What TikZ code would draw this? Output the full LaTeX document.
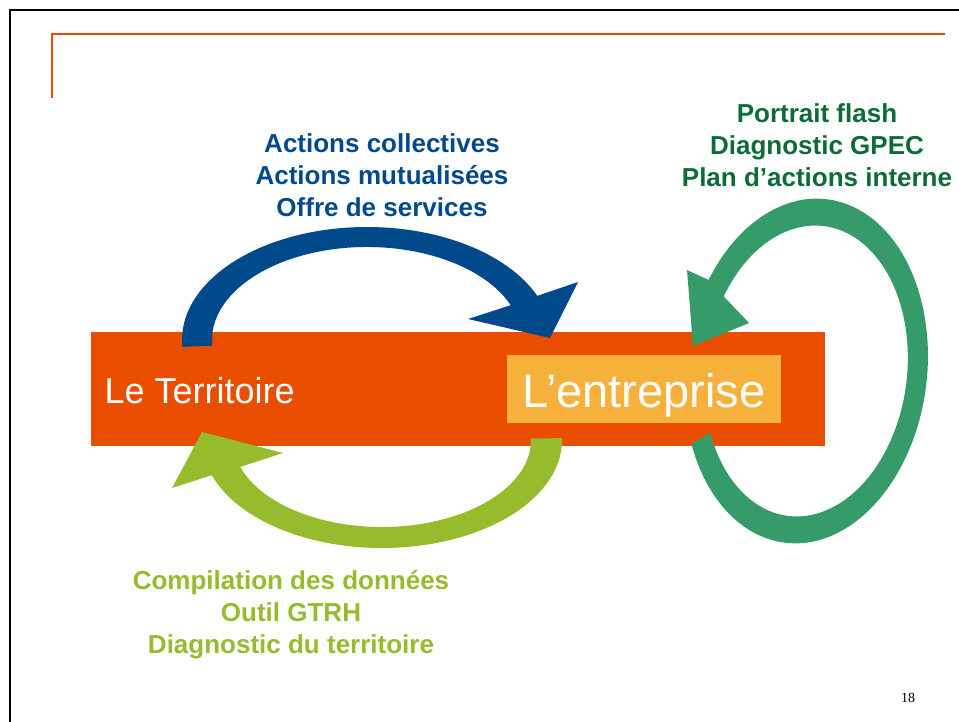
\documentclass[tikz,border=0pt]{standalone}
\usepackage{fontspec}
\setmainfont{Liberation Sans}
\newfontfamily\pagefont{Liberation Serif}
\usetikzlibrary{calc}
\definecolor{barorange}{RGB}{233,78,0}
\definecolor{boxorange}{RGB}{246,176,60}
\definecolor{arrblue}{RGB}{0,74,140}
\definecolor{arrlime}{RGB}{150,188,46}
\definecolor{arrgreen}{RGB}{53,155,105}
\definecolor{txtgreen}{RGB}{12,107,54}
\tikzset{bigtxt/.style={font=\fontsize{26}{32}\selectfont\bfseries, align=center}}

\begin{document}
\begin{tikzpicture}[x=1pt,y=-1pt]
  \useasboundingbox (0,0) rectangle (959,722);
  \draw[line width=2pt] (10,722) -- (10,10) -- (959,10);   % slide frame
  \draw[barorange, line width=2pt] (52,98) -- (52,34) -- (945,34);
  \fill[barorange] (91,332) rectangle (825,446);
  \node[anchor=base west, text=white, font=\fontsize{36}{40}\selectfont] (territoire) at (101,403) {Le Territoire};
  \node[fill=boxorange, text=white, font=\fontsize{47}{50}\selectfont, inner sep=0pt,
        minimum width=274pt, minimum height=68pt, text height=36pt, text depth=0pt] (entreprise) at (644,389) {L’entreprise};

  % territoire -> entreprise, over the top
  \coordinate (cb) at (367,340);
  \fill[arrblue] ($(cb)+(176.5:185 and 113)$) arc[start angle=176.5, end angle=337, x radius=185, y radius=113]
    -- (578,282) -- (550,338) -- (468,319)
    -- ($(cb)+(338:155 and 93)$) arc[start angle=338, end angle=176.5, x radius=155, y radius=93] -- cycle;
  % entreprise -> territoire, underneath
  \coordinate (cl) at (382,440);
  \fill[arrlime] ($(cl)+(-1:180 and 108)$) arc[start angle=-1, end angle=161, x radius=180, y radius=108]
    -- (172,488) -- (202,432) -- (283,453)
    -- ($(cl)+(162:149 and 87)$) arc[start angle=162, end angle=-1, x radius=149, y radius=87] -- cycle;
  % loop back onto entreprise
  \begin{scope}[shift={(806,371)}, rotate=-7]
    \fill[arrgreen] (150:121 and 173) arc[start angle=150, end angle=-153, x radius=121, y radius=173]
      -- (-130.4,-85.7) -- (-115.2,-11.0) -- (-62.4,-40.7)
      -- (-154:101 and 146) arc[start angle=-154, end angle=150, x radius=101, y radius=146] -- cycle;
  \end{scope}

  \node[bigtxt, text=arrblue] (collect) at (382,175) {Actions collectives\\Actions mutualisées\\Offre de services};
  \node[bigtxt, text=txtgreen] (interne) at (817,145) {Portrait flash\\Diagnostic GPEC\\Plan d’actions interne};
  \node[bigtxt, text=arrlime] (donnees) at (291,615) {Compilation des données\\Outil GTRH\\Diagnostic du territoire};
  \node[font=\pagefont\fontsize{14}{16}\selectfont] (pagenum) at (908,698) {18};
\end{tikzpicture}
\end{document}
